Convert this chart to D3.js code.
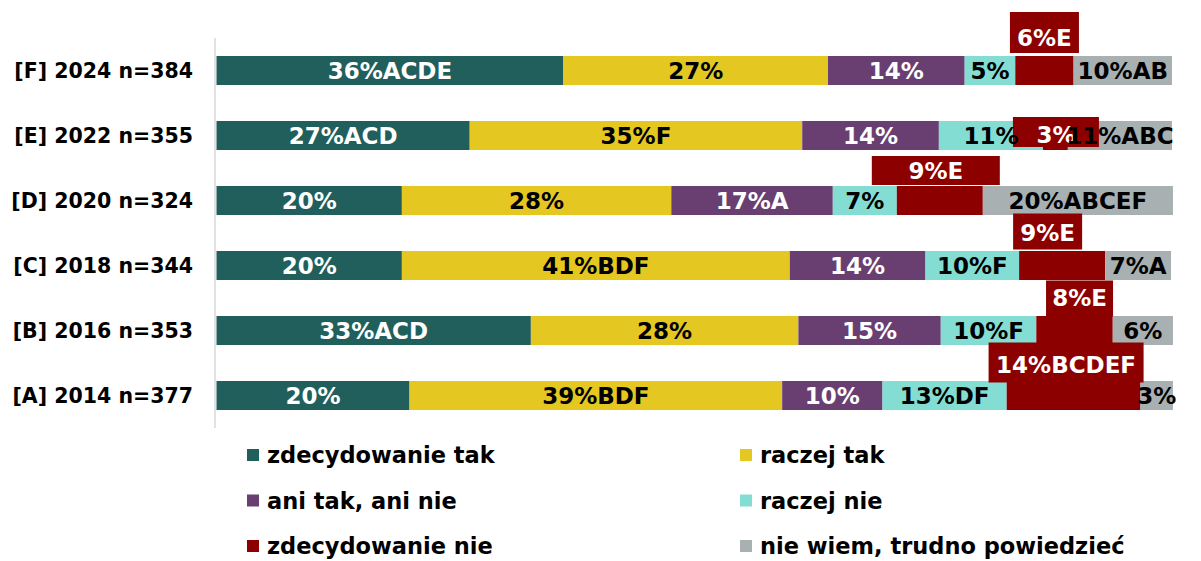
<!DOCTYPE html>
<html>
<head>
<meta charset="utf-8">
<script src="https://cdn.jsdelivr.net/npm/d3@7"></script>
<style>
  body { margin: 0; background: #fff; }
  svg text { font-family: "DejaVu Sans", sans-serif; font-weight: bold; }
</style>
</head>
<body>
<div id="vis"></div>
<script>
/*************************** data ********************************************/
var categories = ["[F] 2024 n=384", "[E] 2022 n=355", "[D] 2020 n=324",
                  "[C] 2018 n=344", "[B] 2016 n=353", "[A] 2014 n=377"];

var seriesNames = ["zdecydowanie tak", "raczej tak", "ani tak, ani nie",
                   "raczej nie", "zdecydowanie nie", "nie wiem, trudno powiedzieć"];

// shares in %, order F..A
var zdecydowanieTak = [36.3, 26.5, 19.4, 19.4, 32.9, 20.2];
var raczejTak       = [27.7, 34.8, 28.2, 40.6, 28.0, 39.0];
var aniTakAniNie    = [14.3, 14.3, 16.9, 14.2, 14.9, 10.5];
var raczejNie       = [5.3, 10.9, 6.7, 9.8, 10.0, 13.0];
var zdecydowanieNie = [6.1, 2.6, 9.0, 9.0, 8.0, 14.0];
var nieWiem         = [10.3, 10.9, 19.9, 6.9, 6.3, 3.4];

// printed labels (with significance letters)
var lblZdecTak = ["36%ACDE", "27%ACD", "20%", "20%", "33%ACD", "20%"];
var lblRaczTak = ["27%", "35%F", "28%", "41%BDF", "28%", "39%BDF"];
var lblAni     = ["14%", "14%", "17%A", "14%", "15%", "10%"];
var lblRaczNie = ["5%", "11%", "7%", "10%F", "10%F", "13%DF"];
var lblZdecNie = ["6%E", "3%", "9%E", "9%E", "8%E", "14%BCDEF"];
var lblNieWiem = ["10%AB", "11%ABC", "20%ABCEF", "7%A", "6%", "3%"];

/*************************** styles / layout *********************************/
var colors = ["#215f5c", "#e4c720", "#693f72", "#83ddd3", "#8d0000", "#a8b0b2"];
var labelColors = ["#fff", "#000", "#fff", "#000", "#fff", "#000"];

// callout boxes of the "zdecydowanie nie" labels, relative to the segment
var redBoxes = [
    {dx: 0,    ty: -32.5, by: -38, w: 69,  h: 41},
    {dx: 0.5,  ty: -1,    by: -3.5, w: 86, h: 30},
    {dx: -4,   ty: -30,   by: -30, w: 128, h: 29},
    {dx: -14.5, ty: -33,  by: -34, w: 69,  h: 36},
    {dx: 5,    ty: -33,   by: -32, w: 67,  h: 36},
    {dx: -7.5, ty: -31,   by: -33, w: 155, h: 40}
];

var W = 1201, H = 561;

var allValues = [zdecydowanieTak, raczejTak, aniTakAniNie, raczejNie, zdecydowanieNie, nieWiem];
var allLabels = [lblZdecTak, lblRaczTak, lblAni, lblRaczNie, lblZdecNie, lblNieWiem];

var rows = categories.map(function(c, i) {
    var r = {cat: c};
    seriesNames.forEach(function(s, j) { r[s] = allValues[j][i]; });
    return r;
});

var stacked = d3.stack().keys(seriesNames)(rows);

var svg = d3.select("div#vis").append("svg")
    .attr("width", W)
    .attr("height", H);

var x = d3.scaleLinear().domain([0, 100]).range([216.5, 1172]);
var y = d3.scaleBand().domain(categories).range([38, 428])
    .paddingInner(0.554).paddingOuter(0.277);

// axis line
svg.append("line")
    .attr("x1", 215).attr("x2", 215)
    .attr("y1", 38).attr("y2", 428)
    .attr("stroke", "#d9d9d9")
    .attr("stroke-width", 1.5);

// category labels
svg.append("g")
    .selectAll("text")
    .data(categories)
  .enter().append("text")
    .attr("x", 193)
    .attr("y", function(d) { return y(d) + y.bandwidth() / 2; })
    .attr("dy", "0.36em")
    .attr("text-anchor", "end")
    .attr("font-size", 20.5)
    .attr("fill", "#000")
    .text(function(d) { return d; });

// bars
var layers = svg.append("g").selectAll("g.layer")
    .data(stacked)
  .enter().append("g")
    .attr("class", "layer")
    .attr("fill", function(d, i) { return colors[i]; });

layers.selectAll("rect")
    .data(function(d) { return d; })
  .enter().append("rect")
    .attr("x", function(d) { return x(d[0]); })
    .attr("width", function(d) { return x(d[1]) - x(d[0]); })
    .attr("y", function(d) { return y(d.data.cat); })
    .attr("height", y.bandwidth());

// callout boxes for "zdecydowanie nie"
var redLayer = stacked[4];
svg.append("g").selectAll("rect")
    .data(redLayer)
  .enter().append("rect")
    .attr("fill", colors[4])
    .attr("x", function(d, i) {
        var cx = (x(d[0]) + x(d[1])) / 2 + redBoxes[i].dx;
        return cx - redBoxes[i].w / 2; })
    .attr("y", function(d, i) {
        var cy = y(d.data.cat) + y.bandwidth() / 2 + redBoxes[i].by;
        return cy - redBoxes[i].h / 2; })
    .attr("width", function(d, i) { return redBoxes[i].w; })
    .attr("height", function(d, i) { return redBoxes[i].h; });

// value labels
stacked.forEach(function(layer, j) {
    svg.append("g").selectAll("text")
        .data(layer)
      .enter().append("text")
        .attr("x", function(d, i) {
            var cx = (x(d[0]) + x(d[1])) / 2;
            return j === 4 ? cx + redBoxes[i].dx : cx; })
        .attr("y", function(d, i) {
            var cy = y(d.data.cat) + y.bandwidth() / 2;
            return j === 4 ? cy + redBoxes[i].ty : cy; })
        .attr("dy", "0.36em")
        .attr("text-anchor", "middle")
        .attr("font-size", 23)
        .attr("fill", labelColors[j])
        .text(function(d, i) { return allLabels[j][i]; });
});

/*************************** color legend ************************************/
var legend = svg.append("g").selectAll("g.legend-elem")
    .data(seriesNames)
  .enter().append("g")
    .attr("class", "legend-elem")
    .attr("transform", function(d, i) {
        return "translate(" + (i % 2 === 0 ? 247 : 740) + "," + (455 + Math.floor(i / 2) * 45.5) + ")"; });

legend.append("rect")
    .attr("x", 0).attr("y", -6)
    .attr("width", 12).attr("height", 12)
    .attr("fill", function(d, i) { return colors[i]; });

legend.append("text")
    .attr("x", 20)
    .attr("dy", "0.36em")
    .attr("font-size", 22.5)
    .attr("fill", "#000")
    .text(function(d) { return d; });
</script>
</body>
</html>
